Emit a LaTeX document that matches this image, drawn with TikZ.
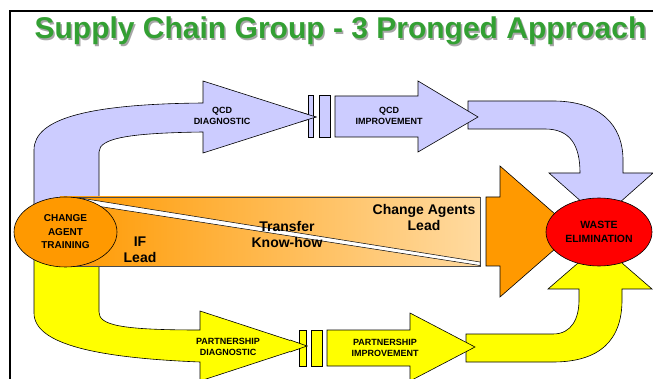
\documentclass[tikz,border=0pt]{standalone}
\usepackage{fontspec}
\setmainfont{Liberation Sans}
\usetikzlibrary{shapes.geometric}
\definecolor{bluef}{RGB}{204,204,255}
\definecolor{yelf}{RGB}{255,255,0}
\definecolor{orf}{RGB}{255,153,0}
\definecolor{redf}{RGB}{255,0,0}
\definecolor{titleg}{RGB}{51,160,51}
\definecolor{peach}{RGB}{255,218,160}
\begin{document}
\begin{tikzpicture}[x=1pt,y=-1pt,
  shp/.style={draw=black,line width=0.6pt,line join=miter},
  lbl/.style={font=\fontsize{9}{11}\selectfont\bfseries,align=center,inner sep=0pt},
  big/.style={font=\fontsize{14}{16}\selectfont\bfseries,align=center,inner sep=0pt},
  oval/.style={shp,ellipse,inner sep=0pt,align=center}]
\useasboundingbox (0,0) rectangle (653,379);
\fill[white] (0,0) rectangle (653,379);
% frame
\draw[line width=1.8pt] (10,400) -- (10,11) -- (670,11);
% title
\node[anchor=base,font=\fontsize{30}{36}\selectfont\bfseries,text=gray!70,inner sep=0pt] (tshadow) at (342,40.5) {Supply Chain Group - 3 Pronged Approach};
\node[anchor=base,font=\fontsize{30}{36}\selectfont\bfseries,text=titleg,inner sep=0pt] (title) at (340.5,39) {Supply Chain Group - 3 Pronged Approach};
% upper blue route
\filldraw[shp,fill=bluef] (34,215) -- (34,150) .. controls (34,118) and (90,104) .. (203,103) -- (203,81) -- (316,117) -- (203,153) -- (203,132) .. controls (130,133) and (99,138) .. (99,152) -- (99,215) -- cycle;
\filldraw[shp,fill=bluef] (308,95) rectangle (313,137);
\filldraw[shp,fill=bluef] (319,95) rectangle (330,137);
\filldraw[shp,fill=bluef] (468,101) -- (553,101) .. controls (600,101) and (623,125) .. (623,160) -- (623,173) -- (653,173) -- (601,219) -- (549,173) -- (580,173) .. controls (580,145) and (570,129) .. (545,129) -- (468,129) -- cycle;
\filldraw[shp,fill=bluef] (335,96) -- (418,96) -- (418,81) -- (478,117) -- (418,152) -- (418,137) -- (335,137) -- cycle;
% re-draw diagnostic tip over bar
\filldraw[shp,fill=bluef] (300,112) -- (316,117) -- (300,122);
\node[lbl] (qcdd) at (222,116) {QCD\\DIAGNOSTIC};
\node[lbl] (qcdi) at (389,116) {QCD\\IMPROVEMENT};
% lower yellow route
\filldraw[shp,fill=yelf] (34,250) -- (34,313) .. controls (34,345) and (100,358) .. (200,362) -- (200,381) -- (307,346) -- (200,311) -- (200,330) .. controls (120,330) and (99,325) .. (99,312) -- (99,250) -- cycle;
\filldraw[shp,fill=yelf] (299,330) rectangle (306,366);
\filldraw[shp,fill=yelf] (311,330) rectangle (322,366);
\filldraw[shp,fill=yelf] (290,340) -- (307,346) -- (290,352);
\filldraw[shp,fill=yelf] (466,334) -- (553,334) .. controls (572,334) and (579,318) .. (579,300) -- (579,289) -- (548,289) -- (600,244) -- (652,289) -- (622,289) -- (622,300) .. controls (622,340) and (600,362) .. (553,362) -- (466,362) -- cycle;
\filldraw[shp,fill=yelf] (327,330) -- (410,330) -- (410,313) -- (475,347) -- (410,381) -- (410,366) -- (327,366) -- cycle;
\node[lbl] (pd) at (228,346.5) {PARTNERSHIP\\DIAGNOSTIC};
\node[lbl] (pi) at (385,347.5) {PARTNERSHIP\\IMPROVEMENT};
% middle band
\shade[left color=orf,right color=peach] (60,197) rectangle (480,266);
\draw[draw=black!70,line width=0.6pt] (60,197) rectangle (480,266);
\filldraw[fill=white,draw=black,line width=0.5pt] (80,198) -- (480,262) -- (480,265.5) -- (84,204) -- cycle;
\node[big] (iflead) at (140,250) {IF\\Lead};
\node[big] (transfer) at (287,234) {Transfer\\Know-how};
\node[big] (calead) at (424,217) {Change Agents\\Lead};
\filldraw[shp,fill=orf] (486,197) -- (500,197) -- (500,166) -- (575,231.5) -- (500,297) -- (500,266) -- (486,266) -- cycle;
% ellipses
\node[oval,fill=orf,minimum width=103pt,minimum height=70pt,font=\fontsize{10}{13.5}\selectfont\bfseries] (cat) at (65.5,232) {CHANGE\\AGENT\\TRAINING};
\node[oval,fill=redf,minimum width=106pt,minimum height=68pt,font=\fontsize{10.5}{14}\selectfont\bfseries] (waste) at (599,232) {WASTE\\ELIMINATION};
\end{tikzpicture}
\end{document}
